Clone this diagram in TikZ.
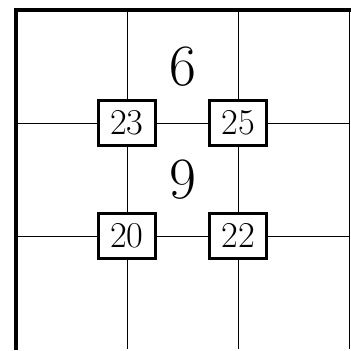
\documentclass[tikz,border=0pt]{standalone}
\tikzset{
  thinline/.style={line width=0.6pt},
  thickline/.style={line width=3pt},
  numbox/.style={draw,line width=2.2pt,fill=white,minimum width=44pt,minimum height=35pt,inner sep=0pt,font=\fontsize{28}{32}\selectfont},
  bignum/.style={font=\fontsize{45}{52}\selectfont}
}
\begin{document}
\begin{tikzpicture}[x=3cm,y=3.054cm]
        \useasboundingbox (-0.144,-0.01) rectangle (3.018,3.088);
        % grid
        \draw[thinline] (1,0) -- (1,3);
        \draw[thinline] (2,0) -- (2,3);
        \draw[thinline] (3,0) -- (3,3);
        \draw[thinline] (0,1) -- (3,1);
        \draw[thinline] (0,2) -- (3,2);
        \draw[thickline] (0,-0.01) -- (0,3) -- (3.018,3);

        \node[numbox] (b23) at (1,2) {23};
        \node[numbox] (b25) at (2,2) {25};
        \node[numbox] (b20) at (1,1) {20};
        \node[numbox] (b22) at (2,1) {22};

        \node[bignum] (n6) at (1.5,2.5) {6};
        \node[bignum] (n9) at (1.5,1.5) {9};
    \end{tikzpicture}
\end{document}
